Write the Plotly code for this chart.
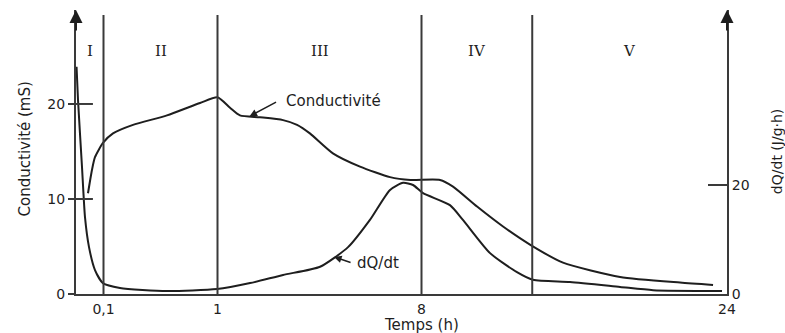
import numpy as np
import plotly.graph_objects as go

# Time axis: labelled times and their positions on the (non-linear) time scale
TIME_KNOTS = [0, 0.1, 1, 8, 24]
AXIS_KNOTS = [0, 27.5, 141.5, 345.5, 651]
TIME_TICKS = [0.1, 1, 8, 24]
TIME_TICK_TEXT = ["0,1", "1", "8", "24"]

# Phase boundaries (h) and phase names
PHASE_BOUNDS = [0, 0.1, 1, 8, 13.8, 24]
PHASE_NAMES = ["I", "II", "III", "IV", "V"]

# Conductivity (mS)
cond_t = [0.0436, 0.058, 0.069, 0.098, 0.175, 0.333, 0.601, 0.862, 1.0, 1.43, 1.77,
          2.46, 3.25, 3.73, 4.17, 4.96, 5.89, 6.92, 7.62, 8.97, 9.65, 10.91, 12.27,
          13.68, 15.41, 18.40, 21.54, 23.27]
cond_v = [10.6, 13.05, 14.4, 15.9, 16.9, 17.8, 18.8, 20.1, 20.7, 19.6, 18.8,
          18.6, 18.3, 17.8, 16.9, 14.8, 13.4, 12.3, 12.0, 12.0, 11.3, 9.2, 7.1,
          5.2, 3.3, 1.8, 1.2, 0.95]

# Heat flow dQ/dt (J/g·h)
dq_t = [0.002, 0.0073, 0.0218, 0.0327, 0.0473, 0.069, 0.098, 0.230, 0.601, 0.996,
        2.12, 3.25, 4.52, 5.48, 6.23, 6.92, 7.37, 7.71, 8.08, 9.49, 10.17, 11.59,
        13.0, 13.84, 15.78, 18.40, 20.13, 23.74]
dq_v = [41.7, 35.6, 23.3, 14.1, 8.6, 4.4, 2.0, 1.1, 0.55, 0.9,
        2.0, 3.5, 5.0, 8.6, 13.6, 19.1, 20.4, 20.0, 18.5, 16.3, 13.6, 7.5,
        4.0, 2.6, 2.2, 1.3, 0.7, 0.55]

COND_TICKS = [0, 10, 20]
DQ_TICKS = [0, 20]

# Where the curve labels point (h)
COND_LABEL_T = 2.1
DQ_LABEL_T = 5.0


def warp(t):
    return np.interp(t, TIME_KNOTS, AXIS_KNOTS)


INK = "#1e1e1e"
AXC = "#3a3a3a"
SANS = "DejaVu Sans"
SERIF = "DejaVu Serif"

fig = go.Figure()
fig.add_trace(go.Scatter(x=warp(cond_t), y=cond_v, mode="lines",
                         line=dict(color=INK, width=2, shape="spline", smoothing=0.6),
                         hoverinfo="skip", showlegend=False))
fig.add_trace(go.Scatter(x=warp(dq_t), y=dq_v, mode="lines", yaxis="y2",
                         line=dict(color=INK, width=2, shape="spline", smoothing=0.6),
                         hoverinfo="skip", showlegend=False))

shapes = []
# phase boundary lines
for b in PHASE_BOUNDS[1:-1]:
    shapes.append(dict(type="line", xref="x", yref="paper", x0=warp(b), x1=warp(b),
                       y0=0, y1=0.982, line=dict(color=AXC, width=2)))
# inner half of the left ticks (they cross the axis)
for v in COND_TICKS[1:]:
    shapes.append(dict(type="line", xref="paper", yref="y", x0=0, x1=0.026,
                       y0=v, y1=v, line=dict(color=AXC, width=2)))

annotations = []
# phase names
for i, name in enumerate(PHASE_NAMES):
    mid = (warp(PHASE_BOUNDS[i]) + warp(PHASE_BOUNDS[i + 1])) / 2
    annotations.append(dict(x=mid, y=0.856, xref="x", yref="paper", text=name,
                            xanchor="center", yanchor="middle", showarrow=False,
                            font=dict(family=SERIF, size=15, color=INK)))
# axis arrowheads
for xp in (0, 1):
    annotations.append(dict(x=xp, y=1, xref="paper", yref="paper", text="",
                            showarrow=True, ax=0, ay=22, arrowhead=2, arrowsize=1.3,
                            arrowwidth=2, arrowcolor=INK))
# curve labels
cy = float(np.interp(COND_LABEL_T, cond_t, cond_v))
annotations.append(dict(x=warp(COND_LABEL_T), y=cy, xref="x", yref="y", text="",
                        showarrow=True, ax=28, ay=-15, arrowhead=2, arrowsize=1,
                        arrowwidth=1.5, arrowcolor=INK))
annotations.append(dict(x=warp(COND_LABEL_T), y=cy, xref="x", yref="y",
                        text="Conductivité", showarrow=False, xanchor="left",
                        yanchor="middle", xshift=34, yshift=15,
                        font=dict(family=SANS, size=15, color=INK)))
dy = float(np.interp(DQ_LABEL_T, dq_t, dq_v))
annotations.append(dict(x=warp(DQ_LABEL_T), y=dy, xref="x", yref="y2", text="",
                        showarrow=True, ax=18, ay=6, arrowhead=2, arrowsize=1,
                        arrowwidth=1.5, arrowcolor=INK))
annotations.append(dict(x=warp(DQ_LABEL_T), y=dy, xref="x", yref="y2",
                        text="dQ/dt", showarrow=False, xanchor="left",
                        yanchor="middle", xshift=21, yshift=-6,
                        font=dict(family=SANS, size=15, color=INK)))
# axis titles
annotations.append(dict(x=-0.078, y=0.51, xref="paper", yref="paper",
                        xanchor="center", yanchor="middle",
                        text="Conductivité (mS)", textangle=-90, showarrow=False,
                        font=dict(family=SANS, size=15, color=INK)))
annotations.append(dict(x=1.077, y=0.5, xref="paper", yref="paper",
                        xanchor="center", yanchor="middle",
                        text="dQ/dt (J/g·h)", textangle=-90, showarrow=False,
                        font=dict(family=SANS, size=14, color=INK)))
annotations.append(dict(x=warp(8), y=-0.109, xref="x", yref="paper",
                        xanchor="center", yanchor="middle",
                        text="Temps (h)", showarrow=False,
                        font=dict(family=SANS, size=15, color=INK)))

fig.update_layout(
    width=785, height=333,
    margin=dict(l=76, r=58, t=10, b=39),
    paper_bgcolor="white", plot_bgcolor="white",
    xaxis=dict(range=[0, 651], tickvals=warp(TIME_TICKS), ticktext=TIME_TICK_TEXT,
               showgrid=False, zeroline=False, showline=True, linecolor=AXC, linewidth=2,
               ticks="outside", ticklen=1, tickcolor="rgba(0,0,0,0)",
               tickfont=dict(family=SANS, size=14, color=INK)),
    yaxis=dict(range=[0, 29.89], tickvals=COND_TICKS, showgrid=False, zeroline=False,
               showline=True, linecolor=AXC, linewidth=2, ticks="outside", ticklen=6,
               tickwidth=2, tickcolor=AXC, tickfont=dict(family=SANS, size=14, color=INK)),
    yaxis2=dict(range=[0, 52.11], tickvals=DQ_TICKS, overlaying="y", side="right",
                showgrid=False, zeroline=False, showline=True, linecolor=AXC, linewidth=2,
                ticks="inside", ticklen=19, tickwidth=1.5, tickcolor=AXC,
                tickfont=dict(family=SANS, size=14, color=INK)),
    shapes=shapes, annotations=annotations,
)

fig.write_html("out.html")
